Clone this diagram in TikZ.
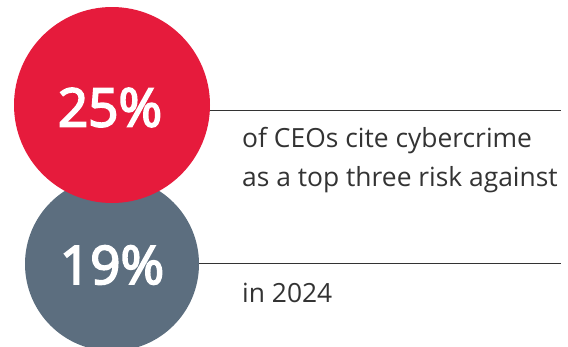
\documentclass[tikz,border=0pt]{standalone}
\usepackage{fontspec}
\setmainfont{Open Sans}
\newfontfamily\numfont[FakeBold=3.5]{Open Sans}
\definecolor{redc}{HTML}{E61B3C}
\definecolor{grayc}{HTML}{5C6E7F}
\definecolor{txt}{HTML}{333333}
\begin{document}
\begin{tikzpicture}[x=1pt,y=-1pt,
  bignum/.style={text=white,font=\numfont\fontsize{53}{60}\selectfont,inner sep=0pt},
  desc/.style={text=txt,font=\fontsize{26.4}{40}\selectfont,anchor=base west,inner sep=0pt},
  rule/.style={draw=txt,line width=1pt}]
\useasboundingbox (0,0) rectangle (568,346);
\node[circle,fill=grayc,minimum size=174pt,inner sep=0pt] (g) at (112,264) {};
\node[circle,fill=redc,minimum size=196pt,inner sep=0pt] (r) at (112,105) {};
\node[bignum] (n1) at (110,107.5) {25\%};
\node[bignum] (n2) at (112,265) {19\%};
\coordinate (r1) at (561,110.5);
\coordinate (r2) at (561,263.5);
\draw[rule] (r.east |- r1) -- (r1);
\draw[rule] (g.east |- r2) -- (r2);
\node[desc] (t1) at (242,147) {of CEOs cite cybercrime};
\node[desc] (t1b) at (242,186) {as a top three risk against};
\node[desc] (t2) at (242,302) {in 2024};
\end{tikzpicture}
\end{document}
